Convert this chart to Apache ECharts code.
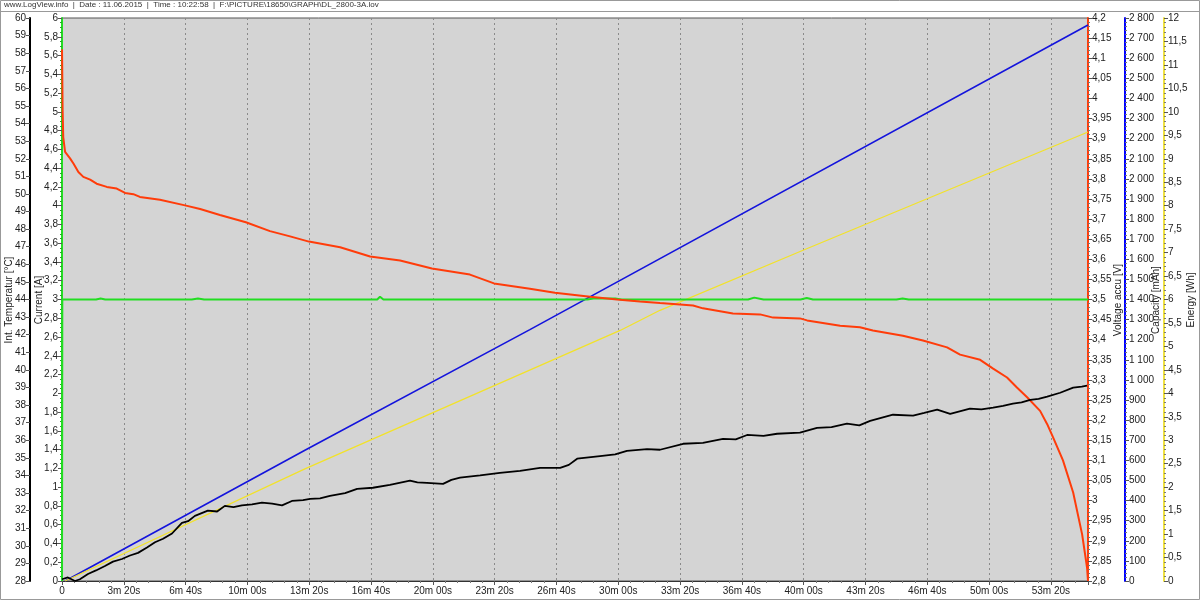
<!DOCTYPE html>
<html>
<head>
<meta charset="utf-8">
<script src="https://cdn.jsdelivr.net/npm/echarts@6/dist/echarts.min.js"></script>
<style>html,body{margin:0;padding:0;background:#fff;}#c{width:1200px;height:600px;}</style>
</head>
<body>
<div id="c"></div>
<script>
// ---- data (time in seconds) ----
const headerText = 'www.LogView.info  |  Date : 11.06.2015  |  Time : 10:22:58  |  F:\\PICTURE\\18650\\GRAPH\\DL_2800-3A.lov';
const axisNames = ['Current [A]', 'Int. Temperatur [°C]', 'Voltage accu [V]', 'Capacity [mAh]', 'Energy [Wh]'];

const temperature = [
 [0,28.1],[19,28.2],[42,28.0],[58,28.1],[84,28.4],[110,28.6],[139,28.85],[165,29.1],[194,29.25],
 [220,29.45],[246,29.6],[275,29.9],[301,30.2],[327,30.4],[356,30.7],[388,31.3],[408,31.4],[430,31.7],
 [472,32.0],[502,31.95],[527,32.27],[555,32.2],[582,32.3],[615,32.35],[647,32.45],[680,32.4],[712,32.3],
 [744,32.55],[780,32.6],[803,32.67],[835,32.7],[867,32.84],[916,33.0],[955,33.24],[1006,33.3],[1061,33.47],
 [1126,33.7],[1150,33.6],[1181,33.58],[1233,33.52],[1260,33.75],[1288,33.87],[1353,34.0],[1417,34.15],
 [1482,34.26],[1547,34.43],[1612,34.43],[1640,34.6],[1667,34.95],[1741,35.1],[1790,35.2],[1828,35.4],
 [1893,35.5],[1935,35.46],[2010,35.8],[2074,35.85],[2139,36.08],[2180,36.05],[2217,36.3],[2270,36.25],
 [2314,36.37],[2388,36.43],[2443,36.7],[2490,36.75],[2540,36.94],[2580,36.85],[2615,37.1],[2689,37.45],
 [2754,37.4],[2790,37.55],[2832,37.74],[2874,37.5],[2938,37.8],[2975,37.75],[3013,37.85],[3045,37.95],
 [3077,38.08],[3105,38.15],[3133,38.3],[3160,38.35],[3188,38.48],[3230,38.7],[3272,38.99],[3300,39.05],[3317,39.1]
];

const current = [
 [0,0],[1,3.0],[110,3.0],[125,3.01],[140,3.0],[420,3.0],[440,3.01],[460,3.0],[1020,3.0],[1029,3.03],
 [1040,3.0],[1700,3.0],[1720,3.01],[1790,3.01],[1810,3.0],[2220,3.0],[2240,3.02],[2270,3.0],
 [2390,3.0],[2410,3.015],[2430,3.0],[2700,3.0],[2720,3.01],[2740,3.0],[3320,3.0]
];

const voltage = [
 [0,4.122],[1,4.05],[2,3.971],[4,3.904],[10,3.867],[26,3.851],[37,3.838],[53,3.817],[69,3.805],
 [91,3.798],[112,3.788],[145,3.780],[177,3.776],[204,3.765],[231,3.762],[252,3.755],[317,3.748],
 [398,3.734],[447,3.725],[511,3.71],[595,3.692],[673,3.67],[738,3.657],[799,3.644],[900,3.63],
 [997,3.607],[1094,3.597],[1197,3.577],[1320,3.562],[1398,3.54],[1514,3.527],[1595,3.517],[1709,3.507],
 [1796,3.50],[1870,3.495],[1935,3.491],[2042,3.485],[2074,3.478],[2171,3.465],[2259,3.463],[2301,3.455],
 [2388,3.453],[2411,3.448],[2518,3.435],[2582,3.431],[2624,3.423],[2721,3.410],[2786,3.398],[2864,3.381],
 [2906,3.363],[2971,3.350],[3013,3.328],[3058,3.306],[3090,3.281],[3123,3.257],[3165,3.223],[3188,3.19],
 [3207,3.157],[3230,3.116],[3239,3.10],[3272,3.02],[3301,2.916],[3317,2.833],[3320,2.80]
];

const capacity = [[10,0],[786,650],[1514,1250],[3320,2765]];
const energy = [[10,0],[786,2.39],[1806,5.34],[1935,5.77],[2398,7.05],[3320,9.57]];

// ---- helpers ----
function num(v){
  let s = (Math.round(v*1000)/1000).toString();
  let parts = s.split('.');
  parts[0] = parts[0].replace(/\B(?=(\d{3})+(?!\d))/g,' ');
  return parts.join(',');
}
function tfmt(v){
  if (Math.abs(v % 200) > 1e-6) return '';
  if (v === 0) return '0';
  const m = Math.floor(v/60), s = Math.round(v%60);
  return m + 'm ' + String(s).padStart(2,'0') + 's';
}

const FONT = 'Liberation Sans';
const lbl = {fontFamily: FONT, fontSize: 10, color: '#222'};

function yAx(o){
  return Object.assign({
    type:'value',
    splitLine:{show:false},
    axisLine:{show:true,lineStyle:{width:2}},
    axisTick:{show:true,length:4,lineStyle:{color:'#555'}},
    minorTick:{show:true,length:2,splitNumber:5,lineStyle:{color:'#777'}},
    axisLabel:Object.assign({margin:4,formatter:num},lbl)
  }, o);
}
function vname(text, x){
  return {type:'text', x:x, y:300, rotation:Math.PI/2, silent:true,
          style:{text:text, x:0, y:0, align:'center', verticalAlign:'middle',
                 font:'10px "Liberation Sans"', fill:'#222'}};
}

const chart = echarts.init(document.getElementById('c'), null, {renderer:'canvas'});
chart.setOption({
  animation:false,
  backgroundColor:'#fff',
  graphic:[
    {type:'rect',shape:{x:0.5,y:0.5,width:1199,height:599},style:{fill:'none',stroke:'#999',lineWidth:1},silent:true},
    {type:'line',shape:{x1:0,y1:11.5,x2:1200,y2:11.5},style:{stroke:'#999',lineWidth:1},silent:true},
    {type:'text',left:4,top:1,style:{text:headerText,font:'8px "Liberation Sans"',fill:'#333'}},
    vname(axisNames[1], 9),
    vname(axisNames[0], 39),
    vname(axisNames[2], 1118),
    vname(axisNames[3], 1156),
    vname(axisNames[4], 1191)
  ],
  grid:{left:62,right:112,top:18,bottom:19,containLabel:false,outerBoundsMode:'none',
        show:true,backgroundColor:'#d4d4d4',borderColor:'#555',borderWidth:1},
  xAxis:{
    type:'value',min:0,max:3320,interval:200,
    axisLine:{show:true,onZero:false,lineStyle:{color:'#333',width:1}},
    axisTick:{show:true,length:4,lineStyle:{color:'#555'}},
    minorTick:{show:true,length:2,splitNumber:5,lineStyle:{color:'#777'}},
    axisLabel:Object.assign({margin:5,formatter:tfmt,showMaxLabel:false},lbl),
    splitLine:{show:true,lineStyle:{color:'#8a8a8a',type:[2,3],width:1}}
  },
  yAxis:[
    yAx({position:'left',offset:0,min:0,max:6,interval:0.2,
         axisLine:{show:true,lineStyle:{color:'#22dd22',width:2}},
         minorTick:{show:true,length:2,splitNumber:4,lineStyle:{color:'#22aa22'}}}),
    yAx({position:'left',offset:32,min:28,max:60,interval:1,
         axisLine:{show:true,lineStyle:{color:'#000',width:2}},
         minorTick:{show:false}}),
    yAx({position:'right',offset:0,min:2.8,max:4.2,interval:0.05,
         axisLine:{show:true,lineStyle:{color:'#ff3c0a',width:2}}}),
    yAx({position:'right',offset:37,min:0,max:2800,interval:100,
         axisLine:{show:true,lineStyle:{color:'#0000ff',width:2}}}),
    yAx({position:'right',offset:76,min:0,max:12,interval:0.5,
         axisLine:{show:true,lineStyle:{color:'#eee040',width:2}}})
  ],
  series:[
    {name:'Capacity',type:'line',yAxisIndex:3,data:capacity,showSymbol:false,lineStyle:{color:'#1414dc',width:1.6}},
    {name:'Energy',type:'line',yAxisIndex:4,data:energy,showSymbol:false,lineStyle:{color:'#f2e22a',width:1.3}},
    {name:'Current',type:'line',yAxisIndex:0,data:current,showSymbol:false,lineStyle:{color:'#22dd22',width:2}},
    {name:'Voltage',type:'line',yAxisIndex:2,data:voltage,showSymbol:false,lineStyle:{color:'#ff3c0a',width:2}},
    {name:'Temperature',type:'line',yAxisIndex:1,data:temperature,showSymbol:false,lineStyle:{color:'#000',width:1.8}}
  ]
});
</script>
</body>
</html>
